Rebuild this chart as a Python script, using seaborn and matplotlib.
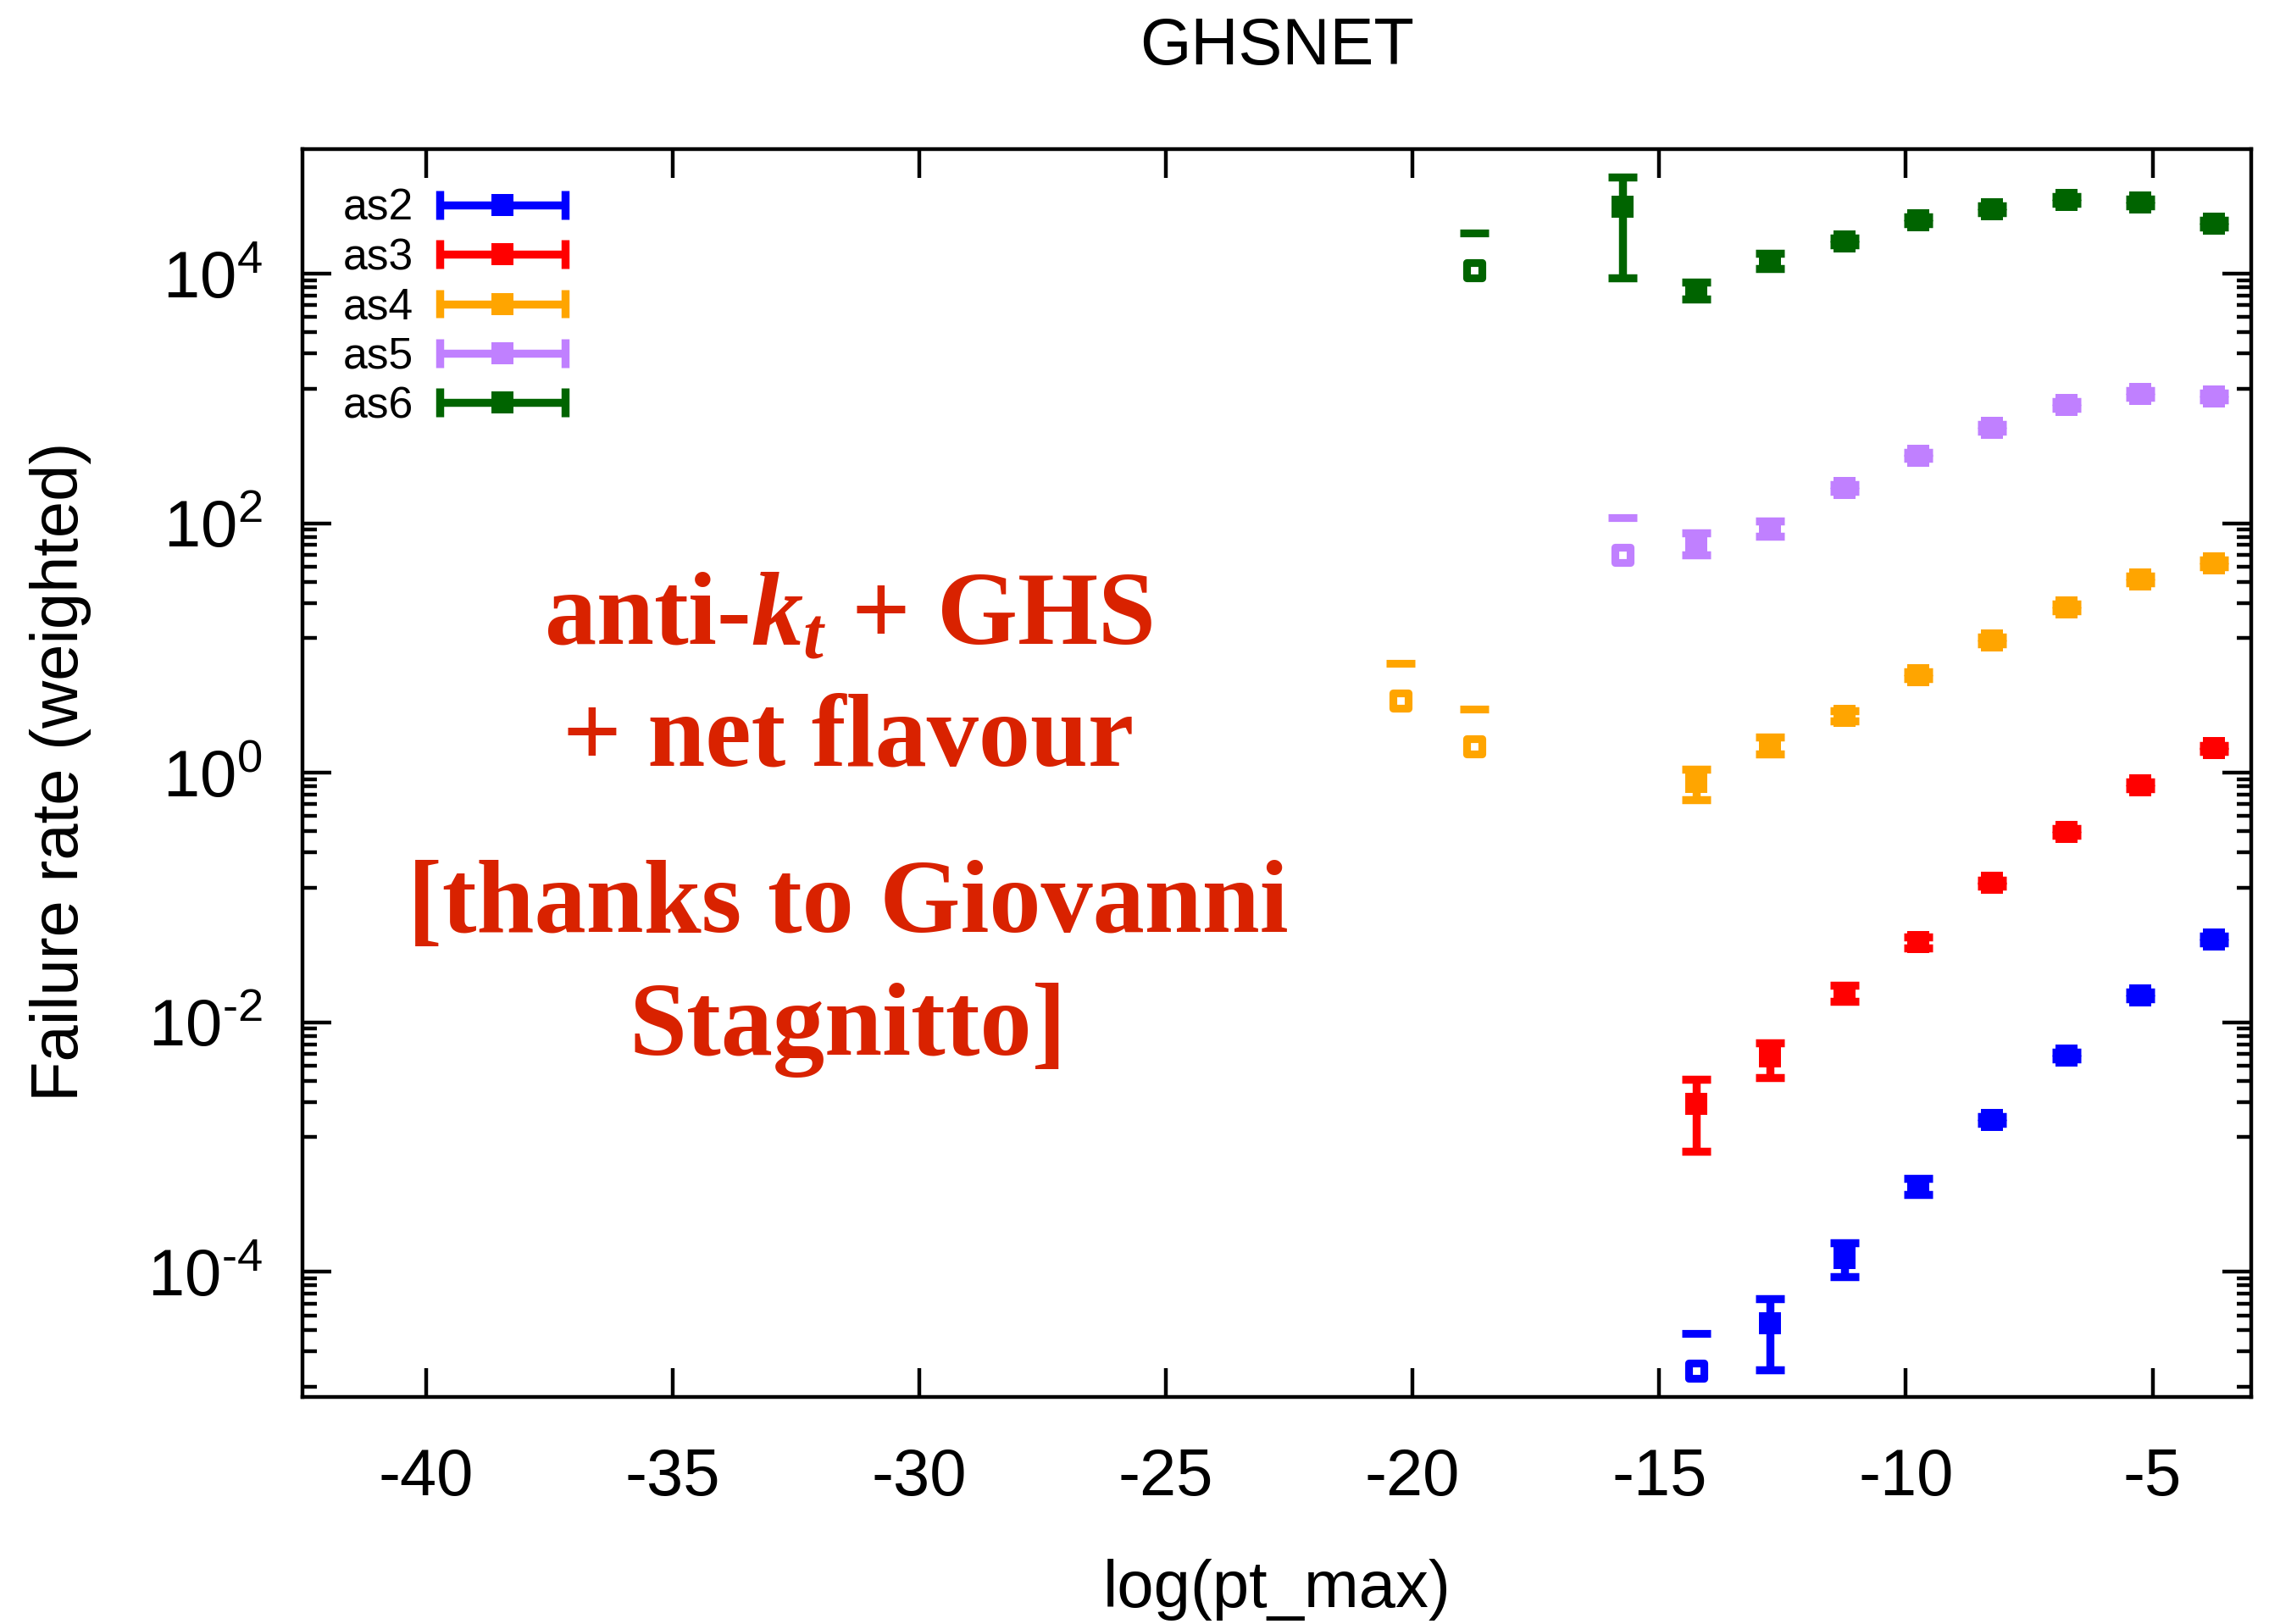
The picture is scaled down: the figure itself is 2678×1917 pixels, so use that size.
import numpy as np
import pandas as pd
import matplotlib
matplotlib.use("Agg")
import matplotlib.pyplot as plt
import seaborn as sns
from matplotlib.lines import Line2D
from matplotlib.legend_handler import HandlerBase
from matplotlib.ticker import FixedLocator, FuncFormatter, NullFormatter

# ---------------- data ----------------
series_names = ["as2", "as3", "as4", "as5", "as6"]
series_colors = ["#0000ff", "#ff0000", "#ffa500", "#c080ff", "#006400"]

as2_x = [-12.75, -11.25, -9.75, -8.25, -6.75, -5.25, -3.75]
as2_y = [3.86e-5, 1.30e-4, 4.83e-4, 1.65e-3, 5.44e-3, 1.64e-2, 4.64e-2]
as2_lo = [1.64e-5, 9.2e-5, 4.18e-4, 1.55e-3, 5.10e-3, 1.54e-2, 4.36e-2]
as2_hi = [6.1e-5, 1.71e-4, 5.6e-4, 1.75e-3, 5.78e-3, 1.74e-2, 4.92e-2]
as2_open_x = [-14.25]
as2_open_y = [1.62e-5]
as2_open_hi = [3.2e-5]

as3_x = [-14.25, -12.75, -11.25, -9.75, -8.25, -6.75, -5.25, -3.75]
as3_y = [2.21e-3, 5.3e-3, 1.71e-2, 4.38e-2, 0.131, 0.337, 0.794, 1.57]
as3_lo = [9.3e-4, 3.6e-3, 1.47e-2, 3.97e-2, 0.123, 0.317, 0.747, 1.48]
as3_hi = [3.48e-3, 6.9e-3, 1.99e-2, 4.83e-2, 0.139, 0.358, 0.843, 1.67]
as3_open_x = []
as3_open_y = []
as3_open_hi = []

as4_x = [-14.25, -12.75, -11.25, -9.75, -8.25, -6.75, -5.25, -3.75]
as4_y = [0.845, 1.65, 2.87, 6.1, 11.6, 21.3, 35.4, 47.6]
as4_lo = [0.614, 1.41, 2.60, 5.74, 10.9, 20.0, 33.3, 44.8]
as4_hi = [1.07, 1.95, 3.16, 6.48, 12.3, 22.6, 37.6, 50.6]
as4_open_x = [-20.25, -18.75]
as4_open_y = [3.79, 1.64]
as4_open_hi = [7.6, 3.27]

as5_x = [-14.25, -12.75, -11.25, -9.75, -8.25, -6.75, -5.25, -3.75]
as5_y = [69, 91, 193, 351, 584, 887, 1091, 1042]
as5_lo = [56, 79, 181, 330, 549, 834, 1026, 980]
as5_hi = [84, 104, 205, 373, 620, 942, 1158, 1106]
as5_open_x = [-15.75]
as5_open_y = [56]
as5_open_hi = [112]

as6_x = [-15.75, -14.25, -12.75, -11.25, -9.75, -8.25, -6.75, -5.25, -3.75]
as6_y = [3.45e4, 7.4e3, 1.27e4, 1.83e4, 2.68e4, 3.30e4, 3.93e4, 3.74e4, 2.53e4]
as6_lo = [9.3e3, 6.3e3, 1.10e4, 1.72e4, 2.52e4, 3.10e4, 3.69e4, 3.52e4, 2.38e4]
as6_hi = [5.97e4, 8.6e3, 1.46e4, 1.94e4, 2.85e4, 3.50e4, 4.17e4, 3.97e4, 2.69e4]
as6_open_x = [-18.75]
as6_open_y = [1.07e4]
as6_open_hi = [2.14e4]

xtick_vals = [-40, -35, -30, -25, -20, -15, -10, -5]
ytick_vals = [1e-4, 1e-2, 1e0, 1e2, 1e4]

title_text = "GHSNET"
xlabel_text = "log(pt_max)"
ylabel_text = "Failure rate (weighted)"
note_lines = ["anti-$k_t$ + GHS", "+ net flavour", "[thanks to Giovanni", "Stagnitto]"]

series = {
    "as2": (as2_x, as2_y, as2_lo, as2_hi, as2_open_x, as2_open_y, as2_open_hi),
    "as3": (as3_x, as3_y, as3_lo, as3_hi, as3_open_x, as3_open_y, as3_open_hi),
    "as4": (as4_x, as4_y, as4_lo, as4_hi, as4_open_x, as4_open_y, as4_open_hi),
    "as5": (as5_x, as5_y, as5_lo, as5_hi, as5_open_x, as5_open_y, as5_open_hi),
    "as6": (as6_x, as6_y, as6_lo, as6_hi, as6_open_x, as6_open_y, as6_open_hi),
}

# ---------------- style ----------------
sns.set_theme(style="ticks")
plt.rcParams["font.family"] = ["Liberation Sans", "DejaVu Sans"]
plt.rcParams["text.color"] = "black"
plt.rcParams["axes.labelcolor"] = "black"
plt.rcParams["xtick.color"] = "black"
plt.rcParams["ytick.color"] = "black"
plt.rcParams["axes.edgecolor"] = "black"
plt.rcParams["axes.unicode_minus"] = False
plt.rcParams["mathtext.fontset"] = "custom"
plt.rcParams["mathtext.it"] = "Liberation Serif:italic:bold"
plt.rcParams["mathtext.rm"] = "Liberation Sans"
plt.rcParams["mathtext.bf"] = "Liberation Serif:bold"

DPI = 200
fig = plt.figure(figsize=(2678 / DPI, 1917 / DPI), dpi=DPI, facecolor="white")
ax = fig.add_axes([357 / 2678, 1 - 1648.7 / 1917, 2300 / 2678, 1472.7 / 1917])
ax.set_facecolor("white")

LW = 3.4
MS = 9.7
CAP = 6.2

legend_handles = []
for name, col in zip(series_names, series_colors):
    x, y, lo, hi, ox, oy, ohi = series[name]
    y = np.asarray(y, float)
    yerr = [y - np.asarray(lo, float), np.asarray(hi, float) - y]
    ax.errorbar(x, y, yerr=yerr, fmt="none", ecolor=col, elinewidth=LW,
                capsize=CAP, capthick=LW, zorder=3)
    df_main = pd.DataFrame({"x": x, "y": y})
    sns.scatterplot(data=df_main, x="x", y="y", ax=ax, marker="s", s=MS ** 2,
                    color=col, edgecolor=col, linewidth=0, legend=False, zorder=4)
    if len(ox):
        df_open = pd.DataFrame({"x": ox, "y": oy, "hi": ohi})
        sns.scatterplot(data=df_open, x="x", y="y", ax=ax, marker="s", s=6.4 ** 2,
                        color=col, facecolor="white", edgecolor=col, linewidth=3.3,
                        legend=False, zorder=4)
        sns.scatterplot(data=df_open, x="x", y="hi", ax=ax, marker="_", s=12.4 ** 2,
                        color=col, linewidth=3.3, legend=False, zorder=4)
    legend_handles.append(Line2D([], [], color=col, label=name))

ax.set_yscale("log")
ax.set_xlim(-42.5, -3.0)
ax.set_ylim(1e-5, 1e5)
ax.set_xticks(xtick_vals)
ax.set_xticklabels([str(v) for v in xtick_vals])


def ylab(v, p):
    e = int(round(np.log10(v)))
    if e < 0:
        return r"$\mathdefault{10^{\text{-}%d}}$" % (-e)
    return r"$\mathdefault{10^{%d}}$" % e


ax.yaxis.set_major_locator(FixedLocator(ytick_vals))
ax.yaxis.set_major_formatter(FuncFormatter(ylab))
minor = [10.0 ** (n - 2) * m for n in (-4, -2, 0, 2, 4) for m in (89, 78, 67, 56, 45, 34, 23, 12)]
ax.yaxis.set_minor_locator(FixedLocator(minor))
ax.yaxis.set_minor_formatter(NullFormatter())
ax.set_xlabel("")
ax.set_ylabel("")

for s in ax.spines.values():
    s.set_linewidth(1.6)
    s.set_color("black")
    s.set_visible(True)
ax.tick_params(which="both", direction="in", top=True, right=True, width=1.6,
               colors="black", labelsize=28)
ax.tick_params(axis="y", pad=17)
ax.tick_params(axis="x", pad=21.5)
ax.tick_params(which="major", length=12.2)
ax.tick_params(which="minor", length=6.1)

# titles / labels
fig.text(0.5628, 1 - 76 / 1917, title_text, ha="center", va="baseline", fontsize=28, color="black")
fig.text(0.5628, 1 - 1897 / 1917, xlabel_text, ha="center", va="baseline", fontsize=28, color="black")
fig.text(72 / 2678, 0.5248, ylabel_text, ha="center", va="center", rotation=90, fontsize=28,
         color="black")

# annotation
note_color = "#d92200"
note_y = [759, 903, 1100, 1245]
for txt, yy in zip(note_lines, note_y):
    ax.text((1001 - 357) / 2300, (1648.7 - yy) / 1472.7, txt, transform=ax.transAxes,
            ha="center", va="baseline", fontsize=44, color=note_color,
            fontfamily="Liberation Serif", fontweight="bold")


class GnuErrHandler(HandlerBase):
    def create_artists(self, legend, orig_handle, xdescent, ydescent, width, height,
                       fontsize, trans):
        col = orig_handle.get_color()
        y = height / 2 - ydescent
        x0, x1 = -xdescent, width - xdescent
        h = 6.1
        arts = [
            Line2D([x0, x1], [y, y], color=col, lw=LW, solid_capstyle="butt"),
            Line2D([x0, x0], [y - h, y + h], color=col, lw=LW, solid_capstyle="butt"),
            Line2D([x1, x1], [y - h, y + h], color=col, lw=LW, solid_capstyle="butt"),
            Line2D([(x0 + x1) / 2], [y], marker="s", ms=MS, mew=0, color=col, linestyle="none"),
        ]
        for a in arts:
            a.set_transform(trans)
        return arts


ax.legend(handles=legend_handles, labels=series_names,
          handler_map={Line2D: GnuErrHandler()},
          loc="upper left", bbox_to_anchor=((405 - 357) / 2300, (1648.7 - 222) / 1472.7),
          frameon=False, markerfirst=False, fontsize=18.6, handlelength=2.85,
          handletextpad=0.6, labelspacing=0.18, borderpad=0, borderaxespad=0,
          handleheight=0.7)

fig.savefig("out.png", dpi=DPI, facecolor="white")
